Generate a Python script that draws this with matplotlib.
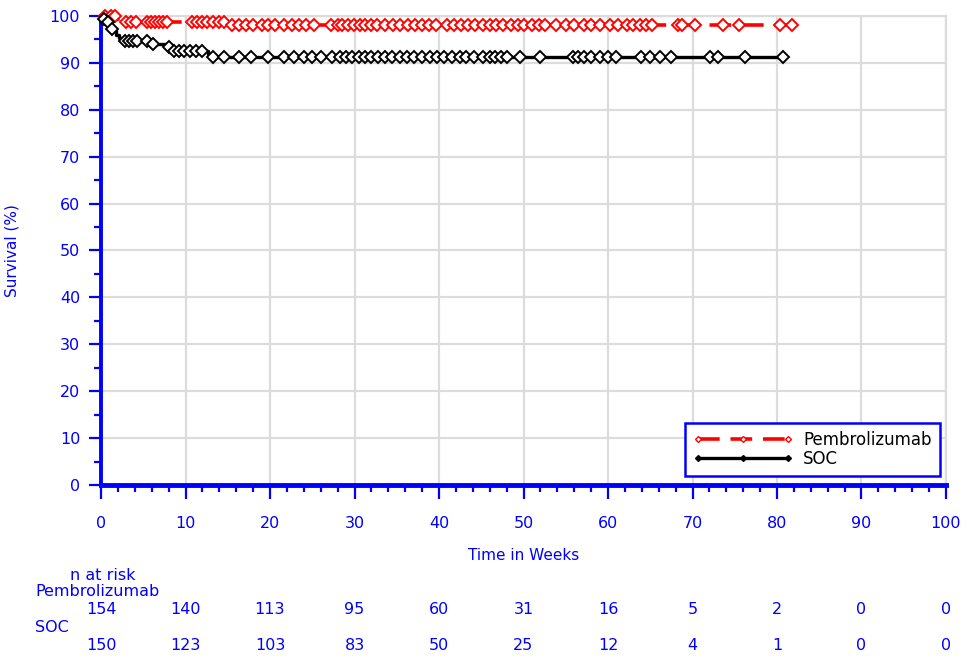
import matplotlib
matplotlib.use("Agg")
import matplotlib.pyplot as plt
from matplotlib.lines import Line2D
from matplotlib.transforms import blended_transform_factory
import numpy as np

BLUE = "#0000ff"

# Kaplan-Meier step curves (time in weeks, survival %)
pem_times = [0, 1.8, 2.3, 15.0, 81.8]
pem_surv = [100, 99.35, 98.7, 98.05, 98.05]
soc_times = [0, 0.3, 0.6, 0.9, 1.2, 1.5, 1.8, 2.1, 2.5, 5.8, 7.9, 8.3, 12.7, 13.0, 80.7]
soc_surv = [100, 99.3, 98.7, 98.0, 97.3, 96.7, 96.0, 95.3, 94.7, 94.0, 93.3, 92.6, 91.9, 91.2, 91.2]

# censored observations
pem_cens = [0.5, 1.2, 1.6, 3.0, 3.6, 4.2, 5.4, 5.9, 6.4, 6.9, 7.3, 7.8,
            10.8, 11.4, 12.0, 12.6, 13.3, 14.0, 14.6, 15.5, 16.3, 17.2, 18.0,
            19.0, 19.8, 20.6, 21.7, 22.6, 23.4, 24.3, 25.2, 27.2, 28.0, 28.5,
            29.2, 29.9, 30.6, 31.3, 32.0, 32.7, 33.6, 34.5, 35.4, 36.3, 37.2,
            38.0, 38.8, 39.6, 41.0, 41.8, 42.6, 43.4, 44.3, 45.2, 46.0, 46.8,
            47.6, 48.5, 49.3, 50.1, 51.0, 51.8, 52.6, 53.8, 55.0, 56.0, 57.2,
            58.0, 59.0, 60.2, 61.2, 62.2, 63.0, 63.8, 64.5, 65.2, 68.3, 68.8,
            70.3, 73.6, 75.5, 80.4, 81.8]
soc_cens = [0.4, 0.8, 1.3, 2.8, 3.3, 3.8, 4.3, 5.5, 6.2, 8.0, 8.6, 9.2, 9.8,
            10.5, 11.3, 12.0, 13.3, 14.5, 16.3, 17.8, 19.8, 21.7, 22.8, 24.0,
            25.0, 26.0, 27.3, 28.3, 29.0, 29.7, 30.5, 31.3, 32.0, 32.8, 33.6,
            34.4, 35.4, 36.2, 37.0, 38.0, 38.9, 39.8, 40.6, 41.5, 42.5, 43.2,
            44.2, 45.2, 46.0, 46.6, 47.3, 48.0, 49.6, 52.0, 55.8, 56.5, 57.2,
            58.0, 59.0, 60.0, 61.0, 63.9, 65.0, 66.2, 67.5, 72.1, 73.0, 76.2,
            80.7]

risk_weeks = [0, 10, 20, 30, 40, 50, 60, 70, 80, 90, 100]
pem_risk = [154, 140, 113, 95, 60, 31, 16, 5, 2, 0, 0]
soc_risk = [150, 123, 103, 83, 50, 25, 12, 4, 1, 0, 0]


def surv_at(times, surv, t):
    idx = np.searchsorted(times, t, side="right") - 1
    return np.asarray(surv)[idx]


fig = plt.figure(figsize=(9.66, 6.56), dpi=100)
ax = fig.add_axes([101 / 966, 1 - 485 / 656, 845 / 966, 469 / 656])

ax.step(pem_times, pem_surv, where="post", color="red", lw=2.6,
        dashes=(6, 3), zorder=4, clip_on=False)
ax.step(soc_times, soc_surv, where="post", color="black", lw=2.4,
        zorder=3, clip_on=False)
ax.plot(pem_cens, surv_at(pem_times, pem_surv, pem_cens), ls="none",
        marker="D", ms=6.5, mfc="white", mec="red", mew=1.4, zorder=5,
        clip_on=False)
ax.plot(soc_cens, surv_at(soc_times, soc_surv, soc_cens), ls="none",
        marker="D", ms=6.5, mfc="white", mec="black", mew=1.4, zorder=5,
        clip_on=False)

ax.set_xlim(0, 100)
ax.set_ylim(0, 100)
ax.set_xticks(range(0, 101, 10))
ax.set_xticks(range(0, 101, 2), minor=True)
ax.set_yticks(range(0, 101, 10))
ax.set_yticks(range(5, 100, 10), minor=True)
ax.grid(True, which="major", color="#dcdcdc", lw=1.6)
ax.set_axisbelow(True)

for side in ("top", "right"):
    ax.spines[side].set_color("#dcdcdc")
    ax.spines[side].set_linewidth(1.6)
ax.spines["left"].set_color(BLUE)
ax.spines["left"].set_linewidth(2.8)
ax.spines["bottom"].set_color(BLUE)
ax.spines["bottom"].set_linewidth(3.5)

ax.tick_params(axis="both", which="both", color=BLUE, labelcolor=BLUE,
               labelsize=11.5, width=1.6)
ax.tick_params(axis="x", which="major", length=10, pad=12)
ax.tick_params(axis="x", which="minor", length=5)
ax.tick_params(axis="y", which="major", length=9, pad=6)
ax.tick_params(axis="y", which="minor", length=5)

ax.set_ylabel("Survival (%)", color=BLUE, fontsize=11)
ax.yaxis.set_label_coords(-0.096, 0.5)
ax.set_xlabel("Time in Weeks", color=BLUE, fontsize=11)
ax.xaxis.set_label_coords(0.5, -0.134)

handles = [
    Line2D([0], [0], color="red", lw=2.6, dashes=(6, 3), marker="D", ms=3,
           mfc="white", mec="red"),
    Line2D([0], [0], color="black", lw=2.4, marker="D", ms=3,
           mfc="black", mec="black"),
]
leg = ax.legend(handles, ["Pembrolizumab", "SOC"], loc="lower right",
                bbox_to_anchor=(0.993, 0.019), numpoints=3, handlelength=6.0,
                fontsize=12, frameon=True, fancybox=False, framealpha=1,
                borderpad=0.5, labelspacing=0.05, handletextpad=0.6,
                borderaxespad=0)
leg.get_frame().set_edgecolor(BLUE)
leg.get_frame().set_linewidth(1.8)

# number at risk table
tr = blended_transform_factory(ax.transData, fig.transFigure)
fig.text(70 / 966, 1 - 575 / 656, "n at risk", color=BLUE, fontsize=11.5,
         va="center")
fig.text(35 / 966, 1 - 592 / 656, "Pembrolizumab", color=BLUE, fontsize=11.5,
         va="center")
fig.text(35 / 966, 1 - 628 / 656, "SOC", color=BLUE, fontsize=11.5,
         va="center")
for wk, n1, n2 in zip(risk_weeks, pem_risk, soc_risk):
    ax.text(wk, 1 - 610 / 656, str(n1), transform=tr, color=BLUE,
            fontsize=11.5, ha="center", va="center", clip_on=False)
    ax.text(wk, 1 - 645 / 656, str(n2), transform=tr, color=BLUE,
            fontsize=11.5, ha="center", va="center", clip_on=False)

fig.savefig("out.png", dpi=100)
